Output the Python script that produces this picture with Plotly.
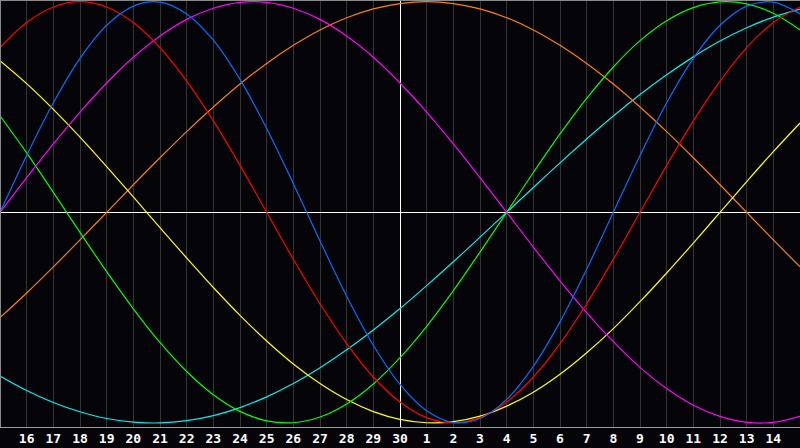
import plotly.graph_objects as go

# Day labels for each sampled day (15th of one month to 15th of the next)
day_labels = ["15", "16", "17", "18", "19", "20", "21", "22", "23", "24", "25",
              "26", "27", "28", "29", "30", "1", "2", "3", "4", "5", "6", "7",
              "8", "9", "10", "11", "12", "13", "14", "15"]
today_label = "30"

# Cycle values (percent), one per day
physical = [0, 27.0, 52.0, 73.1, 88.8, 97.9, 99.8, 94.2, 81.7, 63.1, 39.8, 13.6,
            -13.6, -39.8, -63.1, -81.7, -94.2, -99.8, -97.9, -88.8, -73.1, -52.0,
            -27.0, 0, 27.0, 52.0, 73.1, 88.8, 97.9, 99.8, 94.2]
emotional = [78.2, 90.1, 97.5, 100, 97.5, 90.1, 78.2, 62.3, 43.4, 22.3, 0, -22.3,
             -43.4, -62.3, -78.2, -90.1, -97.5, -100, -97.5, -90.1, -78.2, -62.3,
             -43.4, -22.3, 0, 22.3, 43.4, 62.3, 78.2, 90.1, 97.5]
intellectual = [45.8, 28.2, 9.5, -9.5, -28.2, -45.8, -61.8, -75.6, -86.6, -94.5,
                -99.0, -99.9, -97.2, -91.0, -81.5, -69.0, -54.1, -37.2, -18.9, 0,
                18.9, 37.2, 54.1, 69.0, 81.5, 91.0, 97.2, 99.9, 99.0, 94.5, 86.6]
intuitive = [0, 16.5, 32.5, 47.6, 61.4, 73.6, 83.7, 91.6, 96.9, 99.7, 99.7, 96.9,
             91.6, 83.7, 73.6, 61.4, 47.6, 32.5, 16.5, 0, -16.5, -32.5, -47.6,
             -61.4, -73.6, -83.7, -91.6, -96.9, -99.7, -99.7, -96.9]
aesthetic = [72.0, 61.1, 48.9, 35.7, 21.7, 7.3, -7.3, -21.7, -35.7, -48.9, -61.1,
             -72.0, -81.3, -88.9, -94.6, -98.3, -99.9, -99.4, -96.8, -92.0, -85.4,
             -76.9, -66.7, -55.2, -42.4, -28.8, -14.6, 0, 14.6, 28.8, 42.4]
awareness = [-50.0, -38.3, -25.9, -13.1, 0, 13.1, 25.9, 38.3, 50.0, 60.9, 70.7,
             79.3, 86.6, 92.4, 96.6, 99.1, 100, 99.1, 96.6, 92.4, 86.6, 79.3, 70.7,
             60.9, 50.0, 38.3, 25.9, 13.1, 0, -13.1, -25.9]
spiritual = [-77.7, -84.6, -90.3, -94.7, -97.9, -99.6, -100.0, -98.9, -96.5, -92.7,
             -87.6, -81.3, -73.8, -65.3, -55.9, -45.7, -34.8, -23.5, -11.8, 0, 11.8,
             23.5, 34.8, 45.7, 55.9, 65.3, 73.8, 81.3, 87.6, 92.7, 96.5]

series = [
    ("Spiritual", spiritual, "#00f0f0"),
    ("Awareness", awareness, "#ff8000"),
    ("Aesthetic", aesthetic, "#ffff00"),
    ("Intellectual", intellectual, "#00ff00"),
    ("Intuitive", intuitive, "#ff00ff"),
    ("Emotional", emotional, "#ff0000"),
    ("Physical", physical, "#0070ff"),
]

x = list(range(len(day_labels)))
today_x = x[day_labels.index(today_label)]
y_range = [-102.4, 100.8]
half_px = (x[-1] - x[0]) / 800 / 2  # half a pixel in data units, for crisp 1px lines

fig = go.Figure()
# "today" marker line, drawn under the curves
fig.add_trace(go.Scatter(
    x=[today_x + half_px, today_x + half_px], y=y_range, mode="lines",
    line=dict(color="white", width=1), hoverinfo="skip", showlegend=False,
))
for name, vals, color in series:
    fig.add_trace(go.Scatter(
        x=x, y=vals, mode="lines", name=name,
        line=dict(color=color, width=1.2, shape="spline", smoothing=1.0),
        hoverinfo="skip", showlegend=False,
    ))

bg = "#050409"
fig.update_layout(
    width=800, height=448,
    margin=dict(l=0, r=0, t=0, b=20, pad=0),
    paper_bgcolor=bg, plot_bgcolor=bg,
    xaxis=dict(
        range=[x[0], x[-1]],
        tickvals=x[1:-1], ticktext=day_labels[1:-1],
        showgrid=True, gridcolor="#343434", gridwidth=1,
        zeroline=False, showline=False, ticks="",
        ticklabelstandoff=1,
        tickfont=dict(family="DejaVu Sans Mono", size=13, color="white", weight="bold"),
        fixedrange=True,
    ),
    yaxis=dict(
        range=y_range,
        showgrid=False, showticklabels=False, ticks="",
        zeroline=True, zerolinecolor="white", zerolinewidth=1,
        fixedrange=True,
    ),
    shapes=[
        dict(type="line", xref="paper", yref="paper", x0=0.000625, x1=0.000625, y0=0, y1=1,
             line=dict(color="#8a8a8a", width=1), layer="above"),
        dict(type="line", xref="paper", yref="paper", x0=0, x1=1, y0=1 - 0.5 / 428, y1=1 - 0.5 / 428,
             line=dict(color="#8a8a8a", width=1), layer="above"),
        dict(type="line", xref="paper", yref="paper", x0=0, x1=1, y0=0.5 / 428, y1=0.5 / 428,
             line=dict(color="#9a9a9a", width=1), layer="above"),
    ],
)

fig.write_html("out.html", config={"displayModeBar": False},
               post_script="document.body.style.margin='0';document.body.style.overflow='hidden';")
